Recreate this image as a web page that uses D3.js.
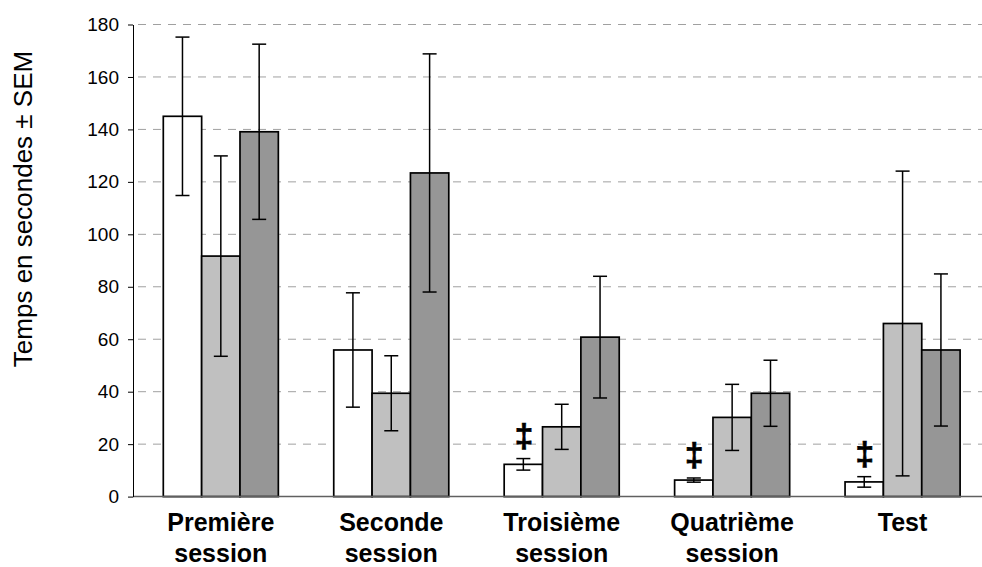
<!DOCTYPE html>
<html>
<head>
<meta charset="utf-8">
<script src="https://cdn.jsdelivr.net/npm/d3@7"></script>
<style>
  html, body { margin: 0; padding: 0; background: #fff; }
  svg { display: block; font-family: "Liberation Sans", Arial, sans-serif; }
</style>
</head>
<body>
<svg id="chart" width="982" height="567"></svg>
<script>
// ---------- data ----------
const categories = [["Première", "session"], ["Seconde", "session"], ["Troisième", "session"], ["Quatrième", "session"], ["Test"]];
const seriesNames = ["Groupe 1", "Groupe 2", "Groupe 3"];
const meanWhite = [145, 55.9, 12.3, 6.3, 5.6];
const meanLight = [91.7, 39.4, 26.6, 30.2, 66];
const meanDark  = [139.1, 123.4, 60.8, 39.4, 55.9];
const semWhite  = [30.2, 21.8, 2.2, 0.8, 2.0];
const semLight  = [38.2, 14.3, 8.6, 12.6, 58.1];
const semDark   = [33.4, 45.4, 23.2, 12.6, 29.0];
const significance = ["", "", "‡", "‡", "‡"]; // marks above the white bar
const yTicks = [0, 20, 40, 60, 80, 100, 120, 140, 160, 180];
const yTitle = "Temps en secondes ± SEM";

// ---------- layout ----------
const FONT = "'Liberation Sans', Arial, sans-serif";
const W = 982, H = 567;
const margin = { left: 133, top: 24.5, bottom: 70.4 };
const plotH = H - margin.top - margin.bottom;
const colors = ["#ffffff", "#c0c0c0", "#969696"];
const means = [meanWhite, meanLight, meanDark];
const sems = [semWhite, semLight, semDark];

const svg = d3.select("#chart");
const g = svg.append("g").attr("transform", `translate(${margin.left},${margin.top})`);

const catKeys = categories.map((c, i) => i);
const x0 = d3.scaleBand().domain(catKeys).range([2.6, 854.8]).paddingInner(0.325).paddingOuter(0.1625);
const x1 = d3.scaleBand().domain(d3.range(seriesNames.length)).range([0, x0.bandwidth()]);
const y = d3.scaleLinear().domain([0, 180]).range([plotH, 0]);

// gridlines
g.append("g").selectAll("line").data(yTicks.filter(t => t > 0)).join("line")
  .attr("x1", 5).attr("x2", W)
  .attr("y1", d => y(d)).attr("y2", d => y(d))
  .attr("stroke", "#a0a0a0").attr("stroke-width", 1).attr("stroke-dasharray", "8,7");

// bars
const rows = [];
catKeys.forEach(ci => seriesNames.forEach((s, si) => rows.push({ ci, si, v: means[si][ci], e: sems[si][ci] })));

g.append("g").selectAll("rect").data(rows).join("rect")
  .attr("x", d => x0(d.ci) + x1(d.si))
  .attr("y", d => y(d.v))
  .attr("width", x1.bandwidth())
  .attr("height", d => y(0) - y(d.v))
  .attr("fill", d => colors[d.si])
  .attr("stroke", "#000").attr("stroke-width", 1.7);

// error bars
const eb = g.append("g").attr("stroke", "#000").attr("stroke-width", 1.5);
const cx = d => x0(d.ci) + x1(d.si) + x1.bandwidth() / 2;
eb.selectAll("line.v").data(rows).join("line").attr("class", "v")
  .attr("x1", cx).attr("x2", cx)
  .attr("y1", d => y(d.v + d.e)).attr("y2", d => y(d.v - d.e));
eb.selectAll("line.t").data(rows).join("line").attr("class", "t")
  .attr("x1", d => cx(d) - 7).attr("x2", d => cx(d) + 7)
  .attr("y1", d => y(d.v + d.e)).attr("y2", d => y(d.v + d.e));
eb.selectAll("line.b").data(rows).join("line").attr("class", "b")
  .attr("x1", d => cx(d) - 7).attr("x2", d => cx(d) + 7)
  .attr("y1", d => y(d.v - d.e)).attr("y2", d => y(d.v - d.e));

// significance marks
g.append("g").selectAll("text").data(rows.filter(d => d.si === 0 && significance[d.ci])).join("text")
  .attr("x", d => cx(d) + 0.5)
  .attr("y", d => y(d.v + d.e) - 12)
  .attr("text-anchor", "middle")
  .attr("font-family", FONT)
  .attr("font-size", 34).attr("font-weight", "bold")
  .attr("stroke", "#000").attr("stroke-width", 0.6)
  .text(d => significance[d.ci]);

// x axis line
g.append("line").attr("x1", 0).attr("x2", W).attr("y1", y(0)).attr("y2", y(0))
  .attr("stroke", "#606060").attr("stroke-width", 1.5);

// y axis
const yAxis = g.append("g").call(d3.axisLeft(y).tickValues(yTicks).tickSize(5).tickPadding(9).tickSizeOuter(0));
yAxis.select(".domain").attr("stroke", "#000").attr("stroke-width", 1);
yAxis.selectAll(".tick line").attr("stroke", "#000");
yAxis.selectAll("text").attr("font-size", 19).attr("font-family", FONT).attr("fill", "#000");

// category labels
const xl = g.append("g").selectAll("text").data(catKeys).join("text")
  .attr("text-anchor", "middle")
  .attr("font-family", FONT)
  .attr("font-size", 25).attr("font-weight", "bold")
  .attr("transform", d => `translate(${x0(d) + x0.bandwidth() / 2},${y(0) + 34.5})`);
xl.selectAll("tspan").data(d => categories[d]).join("tspan")
  .attr("x", 0).attr("y", (t, i) => i * 30.5).text(t => t);

// y title
svg.append("text")
  .attr("transform", `translate(31.5,209) rotate(-90)`)
  .attr("text-anchor", "middle")
  .attr("font-family", FONT)
  .attr("font-size", 26)
  .text(yTitle);
</script>
</body>
</html>
